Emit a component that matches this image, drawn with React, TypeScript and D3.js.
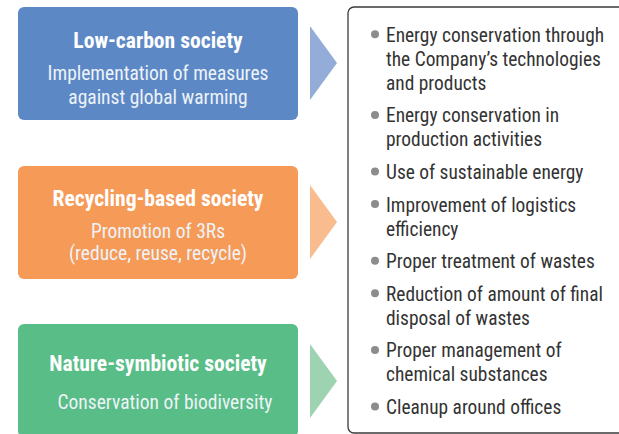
import React, { useEffect, useRef } from 'react';
import * as d3 from 'd3';

const societies = ['Low-carbon society', 'Recycling-based society', 'Nature-symbiotic society'];
const subtitles = [
  ['Implementation of measures', 'against global warming'],
  ['Promotion of 3Rs', '(reduce, reuse, recycle)'],
  ['Conservation of biodiversity'],
];
const boxColors = ['#5d88c6', '#f69a58', '#58bd86'];
const arrowColors = ['#94acd8', '#f9bc8f', '#9dd3b1'];
const items = [
  ['Energy conservation through', 'the Company\u2019s technologies', 'and products'],
  ['Energy conservation in', 'production activities'],
  ['Use of sustainable energy'],
  ['Improvement of logistics', 'efficiency'],
  ['Proper treatment of wastes'],
  ['Reduction of amount of final', 'disposal of wastes'],
  ['Proper management of', 'chemical substances'],
  ['Cleanup around offices'],
];

const FONT = '"Liberation Sans Narrow", "Roboto Condensed", Roboto, sans-serif';

const App = () => {
  const svgRef = useRef(null);

  useEffect(() => {
    const width = 619;
    const height = 434;

    d3.select(svgRef.current).selectAll('*').remove();
    const svg = d3.select(svgRef.current).attr('width', width).attr('height', height);

    // left boxes
    const boxW = 280;
    const boxH = 113;
    const boxTop = [7, 166, 324];

    const groups = svg
      .selectAll('.soc')
      .data(societies)
      .enter()
      .append('g')
      .attr('transform', (d, i) => `translate(18, ${boxTop[i]})`);

    groups
      .append('rect')
      .attr('width', boxW)
      .attr('height', boxH)
      .attr('rx', 6)
      .attr('fill', (_, i) => boxColors[i]);

    const titleY = [33, 32, 39];
    groups
      .append('text')
      .attr('x', 140)
      .attr('y', (_, i) => titleY[i] + 7.5)
      .attr('text-anchor', 'middle')
      .attr('fill', '#fff')
      .style('font-family', FONT)
      .style('font-size', '21.6px')
      .style('font-weight', 'bold')
      .text(d => d);

    const subY = [[66, 90], [65, 87], [78]];
    const subX = [140, 140, 147];
    groups.each(function (_, i) {
      d3.select(this)
        .selectAll('.sub')
        .data(subtitles[i])
        .enter()
        .append('text')
        .attr('x', subX[i])
        .attr('y', (_, j) => subY[i][j] + 6.5)
        .attr('text-anchor', 'middle')
        .attr('fill', '#eef3f8')
        .style('font-family', FONT)
        .style('font-size', '19.5px')
        .text(t => t);
    });

    // arrows
    const arrowMid = [63, 222, 381];
    svg
      .selectAll('.arrow')
      .data(societies)
      .enter()
      .append('path')
      .attr('d', (_, i) => {
        const m = arrowMid[i];
        return `M310,${m - 37} L337,${m} L310,${m + 37} Z`;
      })
      .attr('fill', (_, i) => arrowColors[i]);

    // right panel
    svg
      .append('rect')
      .attr('x', 348)
      .attr('y', 7)
      .attr('width', 300)
      .attr('height', 426)
      .attr('rx', 6)
      .attr('fill', '#fff')
      .attr('stroke', '#3a3a3a')
      .attr('stroke-width', 1.3);

    let y = 34.3;
    const lineH = 24;
    const gap = 8.6;
    items.forEach(lines => {
      svg
        .append('circle')
        .attr('cx', 375)
        .attr('cy', y)
        .attr('r', 4)
        .attr('fill', '#8c8c8c');
      lines.forEach((t, j) => {
        svg
          .append('text')
          .attr('x', 386)
          .attr('y', y + j * lineH + 7.5)
          .attr('fill', '#333')
          .style('font-family', FONT)
          .style('font-size', '19.4px')
          .text(t);
      });
      y += lines.length * lineH + gap;
    });
  }, []);

  return <svg ref={svgRef} style={{ position: 'absolute', left: 0, top: 0 }}></svg>;
};

export default App;
